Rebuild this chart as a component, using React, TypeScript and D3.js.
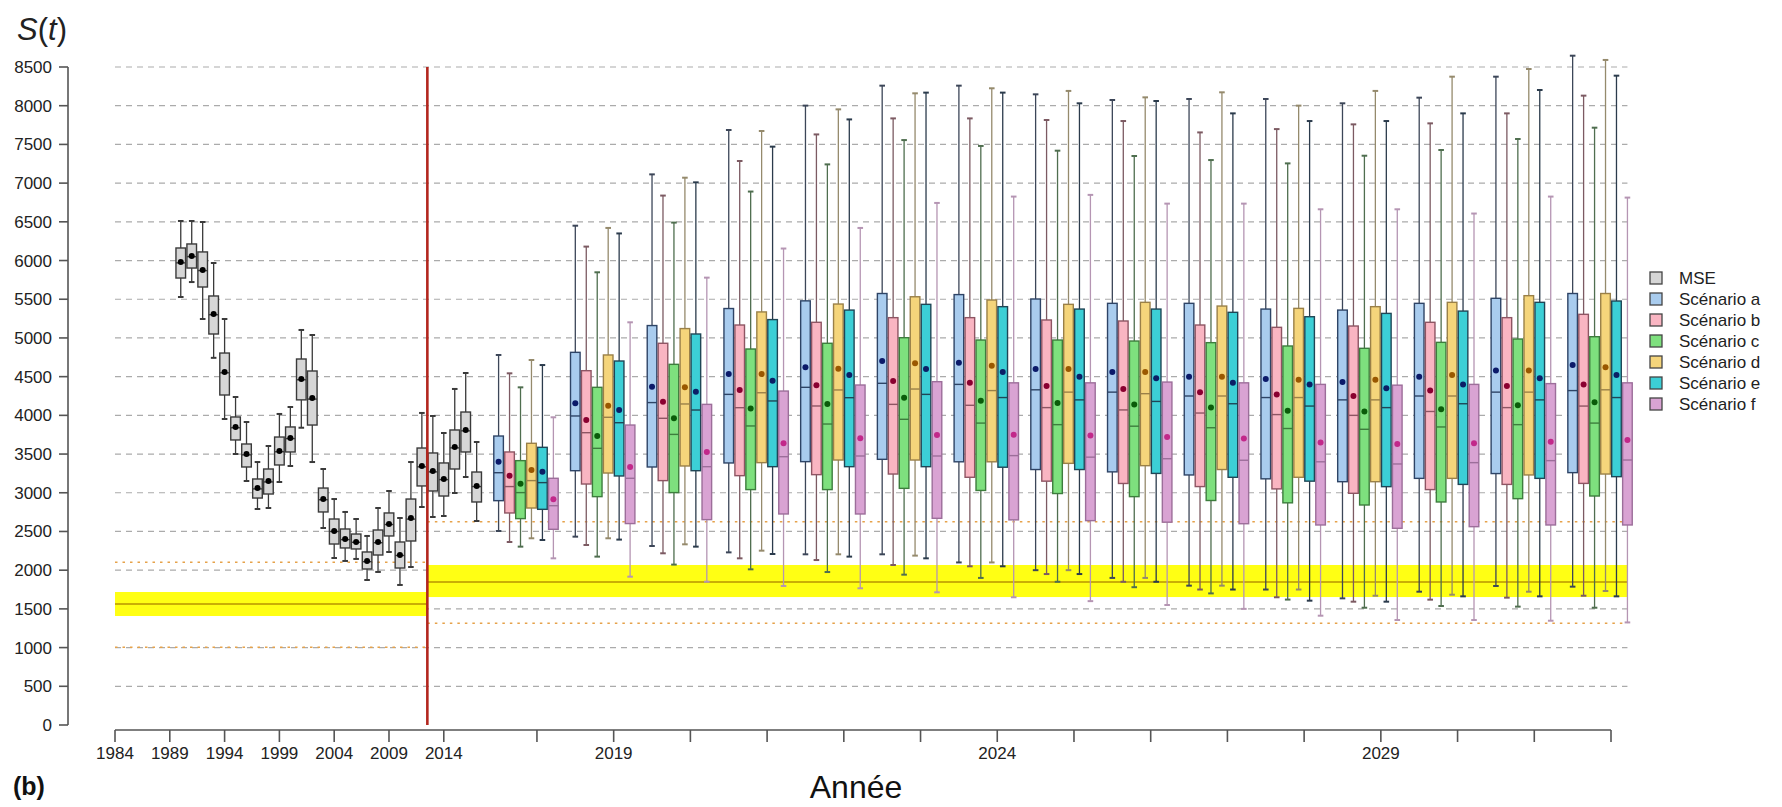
import React from 'react';
import * as d3 from 'd3';

const W = 1782;
const H = 807;

// Stats tuples: [low whisker, Q1, median, Q3, high whisker, mean]
const mseYears = d3.range(1990, 2018);
const mseStats: number[][] = [
  [5529, 5774, 5970, 6162, 6511, 5981],
  [5722, 5903, 6050, 6214, 6511, 6059],
  [5245, 5658, 5870, 6111, 6498, 5878],
  [4743, 5051, 5300, 5542, 5968, 5309],
  [3953, 4263, 4550, 4805, 5245, 4560],
  [3501, 3682, 3840, 3979, 4237, 3850],
  [3152, 3333, 3490, 3630, 3914, 3501],
  [2790, 2932, 3050, 3178, 3397, 3061],
  [2803, 2984, 3140, 3307, 3604, 3152],
  [3139, 3359, 3530, 3720, 4018, 3540],
  [3346, 3527, 3700, 3850, 4108, 3708],
  [3840, 4200, 4460, 4728, 5103, 4470],
  [3397, 3875, 4210, 4573, 5038, 4224],
  [2545, 2752, 2910, 3061, 3307, 2919],
  [2157, 2338, 2500, 2661, 2919, 2506],
  [2119, 2287, 2395, 2532, 2752, 2403],
  [2145, 2274, 2360, 2467, 2661, 2364],
  [1873, 2015, 2110, 2235, 2442, 2119],
  [1977, 2196, 2355, 2519, 2803, 2364],
  [2235, 2442, 2590, 2739, 3023, 2597],
  [1809, 2028, 2190, 2364, 2674, 2196],
  [2041, 2377, 2660, 2919, 3397, 2674],
  [2816, 3088, 3335, 3578, 4031, 3346],
  [2687, 3023, 3270, 3514, 3992, 3281],
  [2700, 2958, 3170, 3385, 3772, 3178],
  [2997, 3307, 3580, 3811, 4341, 3591],
  [3204, 3527, 3800, 4043, 4547, 3811],
  [2635, 2881, 3080, 3268, 3656, 3088],
];

const futureYears = d3.range(2018, 2033);

const scenA: number[][] = [
  [2506, 2898, 3259, 3733, 4780, 3402],
  [2433, 3285, 3992, 4814, 6450, 4156],
  [2312, 3333, 4165, 5160, 7113, 4371],
  [2230, 3385, 4271, 5380, 7686, 4534],
  [2205, 3402, 4362, 5479, 8001, 4620],
  [2205, 3432, 4414, 5574, 8259, 4702],
  [2100, 3400, 4400, 5560, 8259, 4680],
  [2000, 3300, 4330, 5503, 8147, 4600],
  [1900, 3270, 4300, 5447, 8074, 4560],
  [1800, 3230, 4250, 5447, 8087, 4500],
  [1750, 3180, 4230, 5373, 8087, 4470],
  [1636, 3143, 4200, 5360, 8031, 4430],
  [1722, 3186, 4250, 5447, 8104, 4500],
  [1796, 3248, 4300, 5512, 8375, 4580],
  [1787, 3260, 4320, 5574, 8646, 4650],
];
const scenB: number[][] = [
  [2364, 2739, 3080, 3527, 4543, 3221],
  [2325, 3113, 3776, 4577, 6180, 3940],
  [2218, 3157, 3962, 4931, 6839, 4177],
  [2153, 3221, 4099, 5167, 7286, 4328],
  [2131, 3234, 4121, 5202, 7629, 4388],
  [2067, 3242, 4142, 5262, 7836, 4444],
  [2050, 3200, 4130, 5262, 7836, 4420],
  [1950, 3150, 4100, 5232, 7815, 4380],
  [1850, 3120, 4070, 5219, 7802, 4340],
  [1750, 3080, 4030, 5167, 7655, 4300],
  [1650, 3050, 4010, 5137, 7698, 4270],
  [1593, 2993, 4000, 5154, 7759, 4250],
  [1619, 3041, 4050, 5202, 7772, 4320],
  [1645, 3108, 4100, 5262, 7901, 4380],
  [1670, 3121, 4120, 5305, 8130, 4400],
];
const scenC: number[][] = [
  [2304, 2666, 3002, 3415, 4362, 3118],
  [2175, 2950, 3574, 4362, 5848, 3733],
  [2072, 3002, 3754, 4659, 6490, 3962],
  [2011, 3041, 3863, 4857, 6891, 4090],
  [1976, 3041, 3888, 4931, 7242, 4147],
  [1942, 3057, 3949, 5003, 7556, 4228],
  [1900, 3030, 3900, 4973, 7480, 4190],
  [1850, 2990, 3880, 4973, 7419, 4160],
  [1780, 2950, 3860, 4960, 7350, 4140],
  [1700, 2900, 3840, 4939, 7298, 4100],
  [1620, 2870, 3830, 4896, 7255, 4060],
  [1515, 2842, 3820, 4866, 7354, 4050],
  [1537, 2881, 3850, 4943, 7428, 4080],
  [1529, 2924, 3880, 4986, 7570, 4130],
  [1515, 2958, 3900, 5016, 7716, 4170],
];
const scenD: number[][] = [
  [2412, 2803, 3157, 3639, 4715, 3294],
  [2412, 3255, 3975, 4780, 6421, 4125],
  [2334, 3346, 4147, 5121, 7070, 4362],
  [2252, 3389, 4292, 5336, 7673, 4534],
  [2205, 3423, 4328, 5438, 7953, 4603],
  [2188, 3423, 4340, 5532, 8160, 4672],
  [2100, 3400, 4320, 5490, 8225, 4640],
  [2000, 3380, 4300, 5434, 8191, 4600],
  [1900, 3350, 4280, 5460, 8108, 4560],
  [1800, 3300, 4250, 5412, 8173, 4500],
  [1750, 3200, 4230, 5382, 8001, 4460],
  [1670, 3143, 4200, 5404, 8191, 4460],
  [1683, 3186, 4250, 5460, 8375, 4520],
  [1722, 3230, 4300, 5546, 8474, 4580],
  [1731, 3242, 4330, 5574, 8591, 4620],
];
const scenE: number[][] = [
  [2390, 2786, 3131, 3587, 4650, 3272],
  [2395, 3217, 3905, 4702, 6350, 4069],
  [2304, 3285, 4069, 5051, 7010, 4306],
  [2209, 3337, 4186, 5237, 7471, 4448],
  [2175, 3337, 4228, 5360, 7823, 4521],
  [2153, 3337, 4271, 5434, 8169, 4599],
  [2050, 3330, 4230, 5404, 8169, 4560],
  [1950, 3300, 4200, 5373, 8031, 4500],
  [1850, 3250, 4180, 5373, 8061, 4480],
  [1750, 3200, 4150, 5331, 7901, 4420],
  [1606, 3150, 4120, 5274, 7802, 4400],
  [1593, 3079, 4100, 5317, 7802, 4350],
  [1662, 3108, 4150, 5347, 7901, 4400],
  [1662, 3186, 4200, 5460, 8203, 4480],
  [1662, 3208, 4230, 5477, 8388, 4520],
];
const scenF: number[][] = [
  [2153, 2528, 2833, 3187, 3975, 2915],
  [1916, 2602, 3187, 3875, 5202, 3333],
  [1851, 2653, 3337, 4142, 5779, 3526],
  [1796, 2726, 3466, 4314, 6155, 3639],
  [1766, 2726, 3475, 4392, 6421, 3703],
  [1714, 2670, 3475, 4435, 6744, 3746],
  [1650, 2650, 3480, 4420, 6826, 3750],
  [1600, 2640, 3460, 4420, 6848, 3740],
  [1550, 2620, 3440, 4430, 6735, 3720],
  [1500, 2600, 3420, 4420, 6735, 3700],
  [1412, 2584, 3400, 4400, 6662, 3650],
  [1356, 2541, 3372, 4390, 6662, 3630],
  [1356, 2562, 3389, 4400, 6607, 3640],
  [1347, 2584, 3415, 4410, 6826, 3660],
  [1325, 2584, 3423, 4420, 6813, 3680],
];

const legendLabels = ['MSE', 'Scénario a', 'Scénario b', 'Scénario c', 'Scénario d', 'Scénario e', 'Scénario f'];
const yTickValues = d3.range(0, 8501, 500);
const gridValues = d3.range(500, 8501, 500);
const histTickYears = [1984, 1989, 1994, 1999, 2004, 2009, 2014];
const labelledFutureYears = [2019, 2024, 2029];

// reference levels
const histBand = [1408, 1563, 1718];
const futBand = [1653, 1847, 2067];
const histDotted = [1004, 2102];
const futDotted = [1313, 2625];

type Style = { fill: string; stroke: string; whisker: string; dot: string };
const mseStyle: Style = { fill: '#d6d6d6', stroke: '#3a3a3a', whisker: '#3a3a3a', dot: '#000000' };
const scenStyles: Style[] = [
  { fill: '#a9ccee', stroke: '#2e4466', whisker: '#3c4658', dot: '#0b1a6a' },
  { fill: '#f9b5c2', stroke: '#8e5563', whisker: '#7c5a62', dot: '#8a0030' },
  { fill: '#7ee07e', stroke: '#3d7d3d', whisker: '#4f6e4f', dot: '#0a5c0a' },
  { fill: '#f5d57b', stroke: '#9a8048', whisker: '#958a6c', dot: '#9a5800' },
  { fill: '#3ccfd6', stroke: '#1f4656', whisker: '#2b3b4c', dot: '#0b1f66' },
  { fill: '#d9a3d3', stroke: '#9c6e9a', whisker: '#b595b3', dot: '#c2288a' },
];
const scenData = [scenA, scenB, scenC, scenD, scenE, scenF];

const y = d3.scaleLinear().domain([0, 8500]).range([725, 67]);
const slot = d3.scaleLinear().domain([0, 136.5]).range([115, 1611]);
const histSlot = (yr: number) => yr - 1984;
const futSlot = (j: number, k: number) => 35 + 7 * j + k;
const futTickSlot = (j: number) => 38.5 + 7 * j;
const splitSlot = 28.5;
const gridEnd = slot(138);

const FONT = '"Liberation Sans", Arial, Helvetica, sans-serif';

function Box({ cx, s, st }: { cx: number; s: number[]; st: Style }) {
  const bw = 9.6;
  const cap = 2.8;
  const [lo, q1, med, q3, hi, mean] = s;
  return (
    <g>
      <line x1={cx} x2={cx} y1={y(hi)} y2={y(q3)} stroke={st.whisker} strokeWidth={1.3} />
      <line x1={cx} x2={cx} y1={y(q1)} y2={y(lo)} stroke={st.whisker} strokeWidth={1.3} />
      <line x1={cx - cap} x2={cx + cap} y1={y(hi)} y2={y(hi)} stroke={st.whisker} strokeWidth={2} />
      <line x1={cx - cap} x2={cx + cap} y1={y(lo)} y2={y(lo)} stroke={st.whisker} strokeWidth={2} />
      <rect x={cx - bw / 2} y={y(q3)} width={bw} height={y(q1) - y(q3)} fill={st.fill} stroke={st.stroke} strokeWidth={1.4} />
      <line x1={cx - bw / 2} x2={cx + bw / 2} y1={y(med)} y2={y(med)} stroke={st.stroke} strokeWidth={1.4} />
      <circle cx={cx} cy={y(mean)} r={3} fill={st.dot} />
    </g>
  );
}

export default function App() {
  const xLeft = slot(0);
  const xSplit = slot(splitSlot);
  return (
    <svg width={W} height={H} style={{ position: 'absolute', left: 0, top: 0, background: '#fff' }} fontFamily={FONT}>
      <rect x={0} y={0} width={W} height={H} fill="#fff" />
      {gridValues.map((v) => (
        <line key={'g' + v} x1={xLeft} x2={gridEnd} y1={y(v)} y2={y(v)} stroke="#ababab" strokeWidth={1.2} strokeDasharray="6,5" />
      ))}
      {histDotted.map((v) => (
        <line key={'hd' + v} x1={xLeft} x2={xSplit} y1={y(v)} y2={y(v)} stroke="#e6a24a" strokeWidth={1.5} strokeDasharray="2.5,5" />
      ))}
      {futDotted.map((v) => (
        <line key={'fd' + v} x1={xSplit} x2={gridEnd} y1={y(v)} y2={y(v)} stroke="#e6a24a" strokeWidth={1.5} strokeDasharray="2.5,5" />
      ))}
      <rect x={xLeft} y={y(histBand[2])} width={xSplit - xLeft} height={y(histBand[0]) - y(histBand[2])} fill="#ffff14" />
      <line x1={xLeft} x2={xSplit} y1={y(histBand[1])} y2={y(histBand[1])} stroke="#b89400" strokeWidth={1.3} />
      <rect x={xSplit} y={y(futBand[2])} width={gridEnd - xSplit} height={y(futBand[0]) - y(futBand[2])} fill="#ffff14" />
      <line x1={xSplit} x2={gridEnd} y1={y(futBand[1])} y2={y(futBand[1])} stroke="#b89400" strokeWidth={1.3} />

      {mseYears.map((yr, i) => (
        <Box key={'m' + yr} cx={slot(histSlot(yr))} s={mseStats[i]} st={mseStyle} />
      ))}
      {futureYears.map((yr, j) =>
        scenData.map((arr, k) => <Box key={'f' + yr + '-' + k} cx={slot(futSlot(j, k))} s={arr[j]} st={scenStyles[k]} />)
      )}

      <line x1={xSplit} x2={xSplit} y1={y(8500)} y2={y(0)} stroke="#b3261e" strokeWidth={2.6} />

      <line x1={68} x2={68} y1={y(0)} y2={y(8500)} stroke="#555" strokeWidth={1.6} />
      {yTickValues.map((v) => (
        <g key={'yt' + v}>
          <line x1={59} x2={68} y1={y(v)} y2={y(v)} stroke="#555" strokeWidth={1.6} />
          <text x={52} y={y(v) + 6} textAnchor="end" fontSize={17} fill="#222">{v}</text>
        </g>
      ))}

      <line x1={slot(0)} x2={slot(futTickSlot(14))} y1={730} y2={730} stroke="#555" strokeWidth={1.6} />
      {histTickYears.map((yr) => (
        <g key={'hx' + yr}>
          <line x1={slot(histSlot(yr))} x2={slot(histSlot(yr))} y1={730} y2={742} stroke="#555" strokeWidth={1.6} />
          <text x={slot(histSlot(yr))} y={759} textAnchor="middle" fontSize={17} fill="#222">{yr}</text>
        </g>
      ))}
      {futureYears.map((yr, j) => (
        <g key={'fx' + yr}>
          <line x1={slot(futTickSlot(j))} x2={slot(futTickSlot(j))} y1={730} y2={742} stroke="#555" strokeWidth={1.6} />
          {labelledFutureYears.includes(yr) && (
            <text x={slot(futTickSlot(j))} y={759} textAnchor="middle" fontSize={17} fill="#222">{yr}</text>
          )}
        </g>
      ))}

      <text x={17} y={40} fontSize={31} fill="#222">
        <tspan fontStyle="italic">S</tspan>
        <tspan>(</tspan>
        <tspan fontStyle="italic">t</tspan>
        <tspan>)</tspan>
      </text>
      <text x={13} y={795} fontSize={25} fontWeight="bold" fill="#111">(b)</text>
      <text x={856} y={798} textAnchor="middle" fontSize={32} fill="#111">Année</text>

      {legendLabels.map((lab, i) => {
        const st = i === 0 ? mseStyle : scenStyles[i - 1];
        const cy = 278 + i * 21;
        return (
          <g key={'lg' + i}>
            <rect x={1650} y={cy - 6} width={12} height={12} fill={st.fill} stroke="#444" strokeWidth={1.3} />
            <text x={1679} y={cy + 6} fontSize={17} fill="#222">{lab}</text>
          </g>
        );
      })}
    </svg>
  );
}
